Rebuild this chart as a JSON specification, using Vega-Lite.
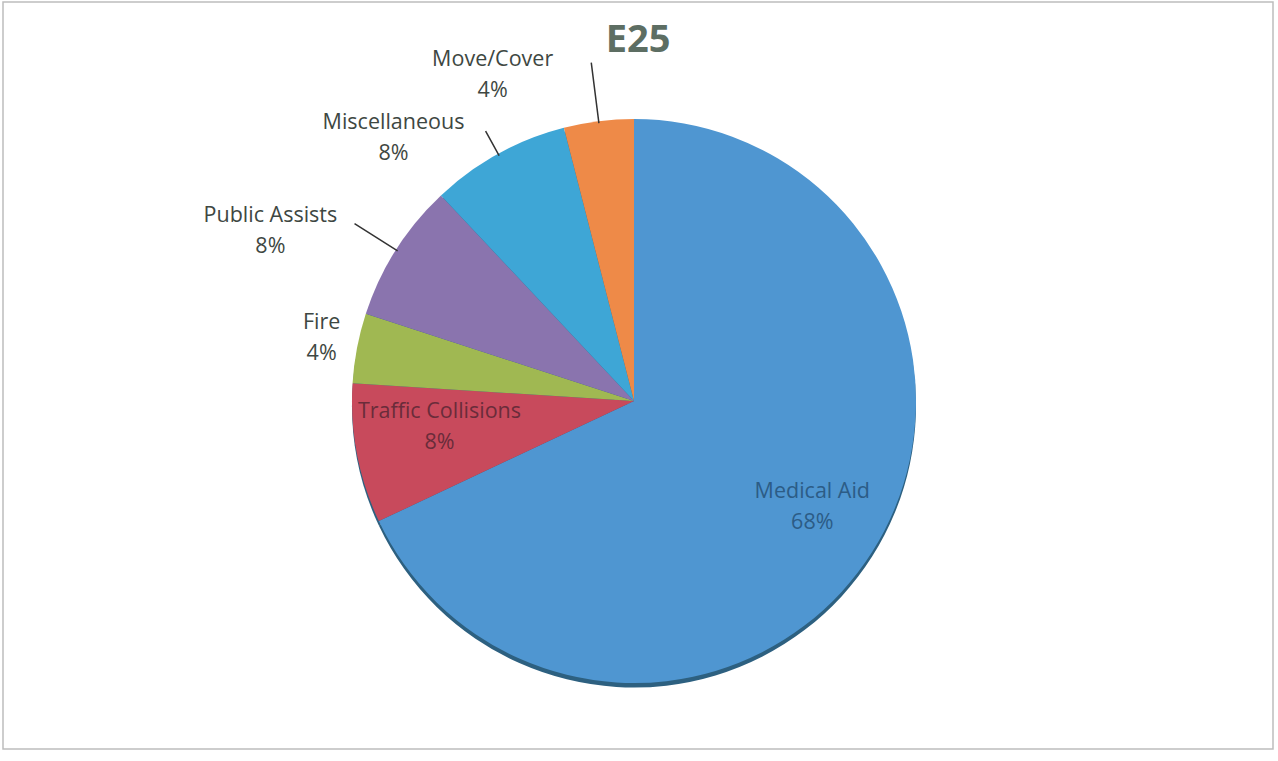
{
  "$schema": "https://vega.github.io/schema/vega-lite/v6.json",
  "autosize": "none",
  "width": 1270,
  "height": 747,
  "padding": {"left": 3, "top": 2, "right": 5, "bottom": 12},
  "background": "white",
  "config": {"view": {"stroke": null}, "font": "Open Sans"},
  "title": {"text": "E25", "font": "Open Sans", "fontSize": 38, "fontWeight": "bold", "color": "#5d6e63", "anchor": "middle", "offset": 0, "baseline": "alphabetic", "dy": 89},
  "data": {"values": [
    {"category": "Medical Aid", "share": 0.68, "order": 1},
    {"category": "Traffic Collisions", "share": 0.08, "order": 2},
    {"category": "Fire", "share": 0.04, "order": 3},
    {"category": "Public Assists", "share": 0.08, "order": 4},
    {"category": "Miscellaneous", "share": 0.08, "order": 5},
    {"category": "Move/Cover", "share": 0.04, "order": 6}
  ]},
  "transform": [
    {"stack": "share", "groupby": [], "sort": [{"field": "order", "order": "ascending"}], "as": ["s0", "s1"]},
    {"calculate": "datum.category + '\\n' + format(datum.share, '.0%')", "as": "label"}
  ],
  "layer": [
    {"data": {"values": [{"frame": 1}]},
     "mark": {"type": "rect", "fillOpacity": 0, "stroke": "#bdbdbd", "strokeWidth": 1.5}},
    {"mark": {"type": "arc", "radius": 282, "xOffset": -4, "yOffset": 30, "color": "#2d6080"},
     "encoding": {"theta": {"field": "s0", "type": "quantitative", "stack": null, "scale": {"domain": [0, 1]}}, "theta2": {"field": "s1"}}},
    {"mark": {"type": "arc", "radius": 282, "xOffset": -4, "yOffset": 25.5},
     "encoding": {
       "theta": {"field": "s0", "type": "quantitative", "stack": null},
       "theta2": {"field": "s1"},
       "color": {"field": "category", "type": "nominal", "legend": null,
         "scale": {"domain": ["Medical Aid", "Traffic Collisions", "Fire", "Public Assists", "Miscellaneous", "Move/Cover"],
                   "range": ["#4f96d1", "#c84a5c", "#a0b852", "#8a74ae", "#3ea6d6", "#ee8a48"]}}}},
    {"mark": {"type": "arc", "radius": 341, "radius2": 280, "thetaOffset": 0.12566, "theta2Offset": 0.12566, "fillOpacity": 0, "stroke": "#333333", "strokeWidth": 1.5, "xOffset": -4, "yOffset": 25.5},
     "encoding": {"theta": {"field": "s0", "type": "quantitative", "stack": null}, "theta2": {"field": "s0"},
       "strokeOpacity": {"condition": {"test": "datum.category == 'Move/Cover'", "value": 1}, "value": 0}}},
    {"mark": {"type": "arc", "radius": 308, "radius2": 280, "thetaOffset": 0.25133, "theta2Offset": 0.25133, "fillOpacity": 0, "stroke": "#333333", "strokeWidth": 1.5, "xOffset": -4, "yOffset": 25.5},
     "encoding": {"theta": {"field": "s0", "type": "quantitative", "stack": null}, "theta2": {"field": "s0"},
       "strokeOpacity": {"condition": {"test": "datum.category == 'Miscellaneous'", "value": 1}, "value": 0}}},
    {"mark": {"type": "arc", "radius": 331, "radius2": 280, "thetaOffset": 0.25133, "theta2Offset": 0.25133, "fillOpacity": 0, "stroke": "#333333", "strokeWidth": 1.5, "xOffset": -4, "yOffset": 25.5},
     "encoding": {"theta": {"field": "s0", "type": "quantitative", "stack": null}, "theta2": {"field": "s0"},
       "strokeOpacity": {"condition": {"test": "datum.category == 'Public Assists'", "value": 1}, "value": 0}}},
    {"mark": {"type": "text", "radius": 330, "dx": -100, "dy": -14, "xOffset": -4, "yOffset": 25.5, "fontSize": 21.5, "lineHeight": 31, "lineBreak": "\n", "color": "#3e4742", "align": "center", "baseline": "middle"},
     "encoding": {"theta": {"field": "share", "type": "quantitative", "stack": true}, "order": {"field": "order", "type": "quantitative"},
       "text": {"field": "label"}, "opacity": {"condition": {"test": "datum.category == 'Move/Cover'", "value": 1}, "value": 0}}},
    {"mark": {"type": "text", "radius": 300, "dx": -96, "dy": -15, "xOffset": -4, "yOffset": 25.5, "fontSize": 21.5, "lineHeight": 31, "lineBreak": "\n", "color": "#3e4742", "align": "center", "baseline": "middle"},
     "encoding": {"theta": {"field": "share", "type": "quantitative", "stack": true}, "order": {"field": "order", "type": "quantitative"},
       "text": {"field": "label"}, "opacity": {"condition": {"test": "datum.category == 'Miscellaneous'", "value": 1}, "value": 0}}},
    {"mark": {"type": "text", "radius": 330, "dx": -85, "dy": -8, "xOffset": -4, "yOffset": 25.5, "fontSize": 21.5, "lineHeight": 31, "lineBreak": "\n", "color": "#3e4742", "align": "center", "baseline": "middle"},
     "encoding": {"theta": {"field": "share", "type": "quantitative", "stack": true}, "order": {"field": "order", "type": "quantitative"},
       "text": {"field": "label"}, "opacity": {"condition": {"test": "datum.category == 'Public Assists'", "value": 1}, "value": 0}}},
    {"mark": {"type": "text", "radius": 318, "dx": 0, "dy": -18, "xOffset": -4, "yOffset": 25.5, "fontSize": 21.5, "lineHeight": 31, "lineBreak": "\n", "color": "#3e4742", "align": "center", "baseline": "middle"},
     "encoding": {"theta": {"field": "share", "type": "quantitative", "stack": true}, "order": {"field": "order", "type": "quantitative"},
       "text": {"field": "label"}, "opacity": {"condition": {"test": "datum.category == 'Fire'", "value": 1}, "value": 0}}},
    {"mark": {"type": "text", "radius": 195, "dx": -3, "dy": -26, "xOffset": -4, "yOffset": 25.5, "fontSize": 21.5, "lineHeight": 31, "lineBreak": "\n", "color": "#6a2c3a", "align": "center", "baseline": "middle"},
     "encoding": {"theta": {"field": "share", "type": "quantitative", "stack": true}, "order": {"field": "order", "type": "quantitative"},
       "text": {"field": "label"}, "opacity": {"condition": {"test": "datum.category == 'Traffic Collisions'", "value": 1}, "value": 0}}},
    {"mark": {"type": "text", "radius": 210, "dx": 1, "dy": -22, "xOffset": -4, "yOffset": 25.5, "fontSize": 21.5, "lineHeight": 31, "lineBreak": "\n", "color": "#2c5c86", "align": "center", "baseline": "middle"},
     "encoding": {"theta": {"field": "share", "type": "quantitative", "stack": true}, "order": {"field": "order", "type": "quantitative"},
       "text": {"field": "label"}, "opacity": {"condition": {"test": "datum.category == 'Medical Aid'", "value": 1}, "value": 0}}}
  ]
}
